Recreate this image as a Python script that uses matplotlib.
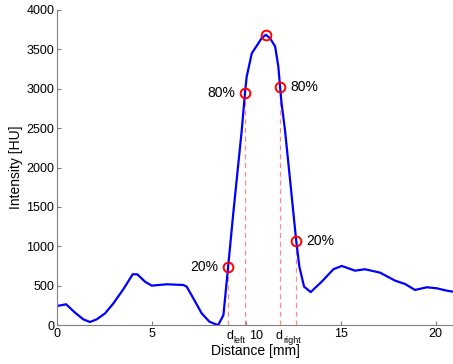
import numpy as np
import matplotlib.pyplot as plt

plt.rcParams['font.family'] = ['Liberation Sans', 'DejaVu Sans']

# intensity profile
dist = [0.0, 0.48, 0.95, 1.39, 1.74, 2.1, 2.54, 2.98, 3.5, 4.0, 4.24, 4.65, 5.0,
        5.8, 6.67, 6.85, 7.2, 7.64, 8.05, 8.44, 8.52, 8.79, 9.04, 9.31, 9.58,
        9.76, 9.93, 10.02, 10.29, 10.55, 10.81, 11.03, 11.25, 11.52, 11.69,
        11.78, 11.86, 12.04, 12.31, 12.63, 12.8, 13.05, 13.4, 13.98, 14.6,
        15.04, 15.74, 16.27, 17.06, 17.86, 18.38, 18.91, 19.53, 20.06, 20.59,
        20.92]
hu = [241, 263, 157, 72, 38, 72, 148, 275, 453, 644, 644, 550, 500,
      517, 508, 487, 339, 148, 42, 4, 2, 127, 741, 1419, 2055,
      2478, 2952, 3155, 3452, 3545, 3643, 3685, 3643, 3537, 3283,
      3028, 2817, 2478, 1842, 1080, 741, 487, 418, 550, 708,
      750, 690, 708, 665, 563, 521, 445, 479, 466, 436,
      423]

# marked points: 20% / 80% on each edge and the maximum
mark_x = [9.05, 9.94, 11.03, 11.80, 12.63]
mark_y = [733, 2944, 3680, 3028, 1071]
mark_txt = ['20%', '80%', None, '80%', '20%']
mark_side = ['left', 'left', None, 'right', 'right']

fig = plt.figure(figsize=(4.53, 3.64), dpi=100)
ax = fig.add_axes([57 / 453, 39 / 364, 397.6 / 453, 315 / 364])

# dashed guides from the edge points down to the axis
for x, y, t in zip(mark_x, mark_y, mark_txt):
    if t is not None:
        ax.plot([x, x], [0, y], color='#ff8a8a', lw=0.9, ls=(0, (4, 3)), zorder=1)

ax.plot(dist, hu, color='#0000ff', lw=1.6, zorder=2)
ax.plot(mark_x, mark_y, 'o', mfc='none', mec='#ff0000', mew=1.4, ms=7, zorder=3)

for x, y, t, s in zip(mark_x, mark_y, mark_txt, mark_side):
    if t is None:
        continue
    off = -7 if s == 'left' else 7
    ha = 'right' if s == 'left' else 'left'
    ax.annotate(t, (x, y), xytext=(off, 0), textcoords='offset points',
                ha=ha, va='center', fontsize=10)

ax.set_xlim(0, 21)
ax.set_ylim(0, 4000)
ax.set_xticks([0, 5, 10, 15, 20])
ax.set_xticklabels(['0', '5', '', '15', '20'])
ax.set_yticks(np.arange(0, 4001, 500))
ax.tick_params(direction='in', length=3, width=0.8, colors='#808080',
               labelcolor='black', labelsize=9, pad=2)
for sp in ['top', 'right']:
    ax.spines[sp].set_visible(False)
for sp in ['left', 'bottom']:
    ax.spines[sp].set_color('#808080')
    ax.spines[sp].set_linewidth(0.8)

# d_left / d_right under the axis, between the dashed guides
trans = ax.get_xaxis_transform()
mid_l = (mark_x[0] + mark_x[1]) / 2
mid_r = (mark_x[3] + mark_x[4]) / 2
for mid, sub, dx in [(mid_l, 'left', -2.5), (mid_r, 'right', -3.8)]:
    ax.annotate('d', (mid, 0), xycoords=trans, xytext=(dx, -3.5),
                textcoords='offset points', ha='right', va='top', fontsize=9)
    ax.annotate(sub, (mid, 0), xycoords=trans, xytext=(dx + 0.4, -7.6),
                textcoords='offset points', ha='left', va='top', fontsize=6.5)
ax.annotate('10', (10.5, 0), xycoords=trans, xytext=(0, -3.5),
            textcoords='offset points', ha='center', va='top', fontsize=9)

ax.set_xlabel('Distance [mm]', fontsize=10, labelpad=3.2)
ax.set_ylabel('Intensity [HU]', fontsize=10, labelpad=2)

fig.savefig('out.png', dpi=100)
